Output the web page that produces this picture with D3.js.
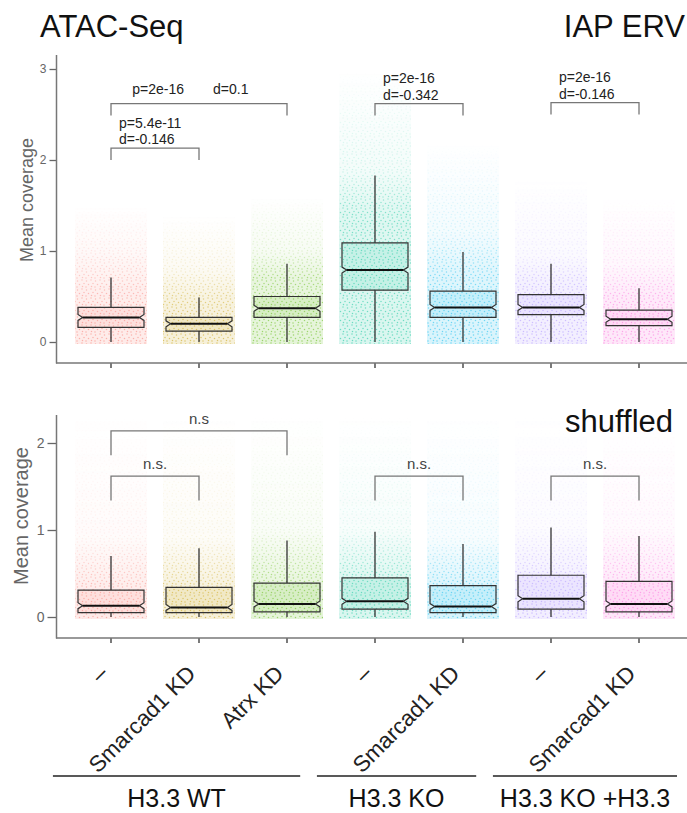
<!DOCTYPE html>
<html>
<head>
<meta charset="utf-8">
<script src="https://cdn.jsdelivr.net/npm/d3@7"></script>
<style>
  body { margin: 0; background: #fff; }
  svg { display: block; font-family: "Liberation Sans", Arial, sans-serif; }
</style>
</head>
<body>
<script>
var categories = ["–", "Smarcad1 KD", "Atrx KD", "–", "Smarcad1 KD", "–", "Smarcad1 KD"];
var groups = [
  {name: "H3.3 WT", from: 0, to: 2},
  {name: "H3.3 KO", from: 3, to: 4},
  {name: "H3.3 KO +H3.3", from: 5, to: 6}
];
var colors = ["#F8766D", "#C49A00", "#53B400", "#00C094", "#00B6EB", "#A58AFF", "#FB61D7"];

// IAP ERV panel: box stats per category
var ervLow  = [0, 0, 0, 0, 0, 0, 0];
var ervQ1   = [0.16, 0.12, 0.27, 0.57, 0.27, 0.30, 0.18];
var ervMed  = [0.27, 0.20, 0.37, 0.79, 0.38, 0.38, 0.25];
var ervQ3   = [0.38, 0.27, 0.50, 1.09, 0.56, 0.52, 0.35];
var ervHigh = [0.71, 0.49, 0.86, 1.83, 0.99, 0.86, 0.59];
// jittered point cloud extent: dense part, spread part, last points
var ervDense  = [0.55, 0.45, 0.70, 1.40, 0.75, 0.65, 0.50];
var ervSpread = [1.00, 0.80, 1.00, 1.90, 1.20, 0.95, 0.85];
var ervMax    = [1.50, 1.40, 1.60, 3.00, 2.20, 1.80, 1.60];
var ervTicks = [0, 1, 2, 3];
var ervTests = [
  {a: 0, b: 2, y: 2.62, lines: ["p=2e-16", "d=0.1"], inline: true},
  {a: 0, b: 1, y: 2.13, lines: ["p=5.4e-11", "d=-0.146"]},
  {a: 3, b: 4, y: 2.62, lines: ["p=2e-16", "d=-0.342"]},
  {a: 5, b: 6, y: 2.63, lines: ["p=2e-16", "d=-0.146"]}
];

// shuffled panel
var shufLow  = [0, 0, 0, 0, 0, 0, 0];
var shufQ1   = [0.05, 0.05, 0.06, 0.09, 0.05, 0.09, 0.06];
var shufMed  = [0.13, 0.11, 0.15, 0.18, 0.12, 0.21, 0.15];
var shufQ3   = [0.31, 0.34, 0.39, 0.45, 0.36, 0.48, 0.41];
var shufHigh = [0.70, 0.79, 0.88, 0.98, 0.84, 1.03, 0.93];
var shufDense  = [0.35, 0.35, 0.40, 0.45, 0.40, 0.45, 0.40];
var shufSpread = [0.90, 0.90, 1.00, 1.00, 0.90, 1.00, 1.00];
var shufMax    = [2.35, 2.35, 2.35, 2.35, 2.35, 2.35, 2.35];
var shufTicks = [0, 1, 2];
var shufTests = [
  {a: 0, b: 2, y: 2.14, lines: ["n.s"]},
  {a: 0, b: 1, y: 1.62, lines: ["n.s."]},
  {a: 3, b: 4, y: 1.62, lines: ["n.s."]},
  {a: 5, b: 6, y: 1.62, lines: ["n.s."]}
];

var width = 687, height = 813;
var svg = d3.select("body").append("svg").attr("width", width).attr("height", height);
var defs = svg.append("defs");

var x = d3.scaleBand().domain(d3.range(categories.length)).range([67, 683]);
var cx = function(i) { return x(i) + x.bandwidth() / 2; };

// speckle texture for the jitter clouds
colors.forEach(function(c, i) {
  var p = defs.append("pattern").attr("id", "dots" + i)
      .attr("patternUnits", "userSpaceOnUse").attr("width", 9).attr("height", 9);
  [[1, 1], [5.5, 2], [3, 4.5], [7.5, 5.5], [1.5, 7.5], [5, 8]].forEach(function(d) {
    p.append("circle").attr("cx", d[0]).attr("cy", d[1]).attr("r", 0.75).attr("fill", c);
  });
});

function panel(opt) {
  var y = d3.scaleLinear().domain(opt.domain).range(opt.range);
  var g = svg.append("g");

  // clouds
  categories.forEach(function(c, i) {
    var id = opt.id + "m" + i;
    var top = y(opt.max[i]), bot = y(0) + 2;
    var grad = defs.append("linearGradient").attr("id", id + "g")
        .attr("gradientUnits", "userSpaceOnUse")
        .attr("x1", 0).attr("x2", 0).attr("y1", y(0)).attr("y2", top);
    [[0, 1], [opt.dense[i] / opt.max[i], 0.85], [opt.spread[i] / opt.max[i], opt.spreadOp], [1, 0]]
      .forEach(function(s) {
        grad.append("stop").attr("offset", s[0]).attr("stop-color", "#fff").attr("stop-opacity", s[1]);
      });
    defs.append("mask").attr("id", id).attr("maskUnits", "userSpaceOnUse")
        .attr("x", 0).attr("y", 0).attr("width", width).attr("height", height)
      .append("rect").attr("x", 0).attr("y", 0).attr("width", width).attr("height", height)
        .attr("fill", "url(#" + id + "g)");
    g.append("rect").attr("x", cx(i) - 36).attr("width", 72)
        .attr("y", top).attr("height", bot - top)
        .attr("fill", colors[i]).attr("fill-opacity", 0.15)
        .attr("mask", "url(#" + id + ")");
    g.append("rect").attr("x", cx(i) - 36).attr("width", 72)
        .attr("y", top).attr("height", bot - top)
        .attr("fill", "url(#dots" + i + ")").attr("opacity", 0.5)
        .attr("mask", "url(#" + id + ")");
  });

  // boxes
  var bw = x.bandwidth() * 0.75, ind = bw * 0.07, nh = 3;
  categories.forEach(function(c, i) {
    var x0 = cx(i) - bw / 2, x1 = cx(i) + bw / 2;
    var q1 = y(opt.q1[i]), q3 = y(opt.q3[i]), m = y(opt.med[i]);
    var nu = Math.max(q3, m - nh), nl = Math.min(q1, m + nh);
    g.append("line").attr("x1", cx(i)).attr("x2", cx(i))
        .attr("y1", q3).attr("y2", y(opt.high[i])).attr("stroke", "#222").attr("stroke-width", 1.2);
    g.append("line").attr("x1", cx(i)).attr("x2", cx(i))
        .attr("y1", q1).attr("y2", y(opt.low[i])).attr("stroke", "#222").attr("stroke-width", 1.2);
    var path = d3.path();
    path.moveTo(x0, q3); path.lineTo(x1, q3); path.lineTo(x1, nu); path.lineTo(x1 - ind, m);
    path.lineTo(x1, nl); path.lineTo(x1, q1); path.lineTo(x0, q1); path.lineTo(x0, nl);
    path.lineTo(x0 + ind, m); path.lineTo(x0, nu); path.closePath();
    g.append("path").attr("d", path.toString())
        .attr("fill", colors[i]).attr("fill-opacity", 0.1)
        .attr("stroke", "#333").attr("stroke-width", 1.2);
    g.append("line").attr("x1", x0 + ind).attr("x2", x1 - ind).attr("y1", m).attr("y2", m)
        .attr("stroke", "#111").attr("stroke-width", 2);
  });

  // axes
  var yAxis = g.append("g").attr("transform", "translate(56.5,0)")
      .call(d3.axisLeft(y).tickValues(opt.ticks).tickFormat(d3.format("d")).tickSize(opt.tick).tickPadding(3));
  yAxis.select(".domain").remove();
  yAxis.selectAll("line").attr("stroke", "#666").attr("stroke-width", 1.3);
  yAxis.selectAll("text").attr("fill", "#666").style("font-size", opt.tickFont + "px").style("font-family", "inherit");
  g.append("line").attr("x1", 56.5).attr("x2", 56.5).attr("y1", opt.top).attr("y2", opt.base + 0.5)
      .attr("stroke", "#777").attr("stroke-width", 1.5);

  var xAxis = g.append("g").attr("transform", "translate(0," + opt.base + ")")
      .call(d3.axisBottom(x).tickFormat("").tickSize(5));
  xAxis.select(".domain").remove();
  xAxis.selectAll("line").attr("stroke", "#333").attr("stroke-width", 1.3);
  g.append("line").attr("x1", 56).attr("x2", width).attr("y1", opt.base).attr("y2", opt.base)
      .attr("stroke", "#777").attr("stroke-width", 1.5);

  g.append("text").attr("transform", "translate(" + opt.labelX + "," + opt.labelY + ") rotate(-90)")
      .attr("text-anchor", "middle").attr("fill", "#666").style("font-size", opt.labelFont + "px")
      .text("Mean coverage");

  // significance brackets
  opt.tests.forEach(function(t) {
    var xa = cx(t.a), xb = cx(t.b), yb = y(t.y), leg = y(t.y - opt.leg);
    g.append("path").attr("d", "M" + xa + "," + leg + "V" + yb + "H" + xb + "V" + leg)
        .attr("fill", "none").attr("stroke", "#777").attr("stroke-width", 1.3);
    if (opt.centered) {
      g.append("text").attr("x", (xa + xb) / 2).attr("y", yb - 7).attr("text-anchor", "middle")
          .attr("fill", "#444").style("font-size", "15px").text(t.lines[0]);
    } else if (t.inline) {
      var mid = (xa + xb) / 2;
      g.append("text").attr("x", mid - 15).attr("y", yb - 10).attr("text-anchor", "end")
          .attr("fill", "#222").style("font-size", "14px").text(t.lines[0]);
      g.append("text").attr("x", mid + 14).attr("y", yb - 10)
          .attr("fill", "#222").style("font-size", "14px").text(t.lines[1]);
    } else {
      t.lines.forEach(function(l, k) {
        g.append("text").attr("x", xa + 8).attr("y", yb - 4 - (t.lines.length - 1 - k) * 16.5)
            .attr("fill", "#222").style("font-size", "14px").text(l);
      });
    }
  });
  return y;
}

panel({id: "erv", domain: [0, 3], range: [342, 69], top: 55, base: 363,
  q1: ervQ1, med: ervMed, q3: ervQ3, high: ervHigh, low: ervLow,
  dense: ervDense, spread: ervSpread, max: ervMax, spreadOp: 0.3, ticks: ervTicks, tick: 7, tickFont: 12,
  labelX: 33, labelY: 200, labelFont: 18, tests: ervTests, leg: 0.13});

panel({id: "shuf", domain: [0, 2], range: [617, 443], top: 415, base: 638,
  q1: shufQ1, med: shufMed, q3: shufQ3, high: shufHigh, low: shufLow,
  dense: shufDense, spread: shufSpread, max: shufMax, spreadOp: 0.2, ticks: shufTicks, tick: 9, tickFont: 14,
  labelX: 28, labelY: 516, labelFont: 20, tests: shufTests, leg: 0.28, centered: true});

// titles
svg.append("text").attr("x", 40).attr("y", 37).style("font-size", "31px").attr("fill", "#111").text("ATAC-Seq");
svg.append("text").attr("x", 685).attr("y", 37).attr("text-anchor", "end").style("font-size", "31px").attr("fill", "#111").text("IAP ERV");
svg.append("text").attr("x", 673).attr("y", 432).attr("text-anchor", "end").style("font-size", "31px").attr("fill", "#111").text("shuffled");

// category labels
svg.append("g").selectAll("text").data(categories).join("text")
    .attr("transform", function(d, i) { return "translate(" + (cx(i) - 2) + ",675) rotate(-45)"; })
    .attr("text-anchor", "end").attr("fill", "#222").style("font-size", "22.5px")
    .text(function(d) { return d; });

// group lines and labels
var step = x.step();
groups.forEach(function(gr, k) {
  var l = cx(gr.from) - step * 0.66;
  var r = k === groups.length - 1 ? width - 10 : cx(gr.to) + step * 0.15;
  svg.append("line").attr("x1", l).attr("x2", r).attr("y1", 776).attr("y2", 776)
      .attr("stroke", "#222").attr("stroke-width", 1.5);
  svg.append("text").attr("x", (l + r) / 2).attr("y", 807).attr("text-anchor", "middle")
      .attr("fill", "#111").style("font-size", "25px").text(gr.name);
});
</script>
</body>
</html>
